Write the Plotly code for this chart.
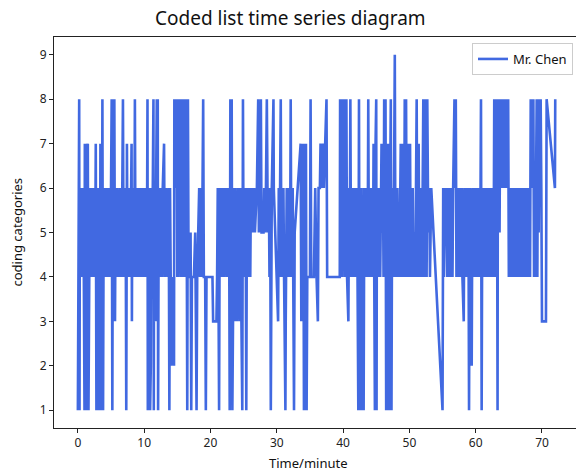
import plotly.graph_objects as go

# ---- data: (minute, coding category) ----
minutes_00_10 = [0.0,0.1,0.2,0.25,0.3,0.4,0.5,0.6,0.7,0.8,0.9,
                 1.0,1.05,1.15,1.25,1.3,1.4,1.5,1.6,1.7,1.8,1.9,
                 2.0,2.1,2.2,2.3,2.4,2.5,2.6,2.7,2.8,2.85,2.9,
                 3.0,3.05,3.1,3.15,3.2,3.3,3.35,3.4,3.45,3.5,3.6,3.7,3.8,3.9,
                 4.0,4.1,4.2,4.3,4.4,4.5,4.6,4.7,4.8,4.9,
                 5.0,5.1,5.2,5.3,5.4,5.5,5.6,5.7,5.8,5.9,
                 6.0,6.1,6.2,6.3,6.4,6.5,6.6,6.7,6.8,6.9,
                 7.0,7.1,7.2,7.3,7.4,7.5,7.6,7.7,7.8,7.9,
                 8.0,8.1,8.15,8.2,8.3,8.4,8.5,8.6,8.7,8.8,8.9,
                 9.0,9.1,9.2,9.3,9.4,9.5,9.6,9.7,9.8,9.9]
codes_00_10 = [1,6,8,1,6,4,6,4,5,6,4,
               1,7,4,7,1,6,7,1,4,6,4,
               6,5,4,6,4,6,4,7,1,6,1,
               4,1,6,1,4,1,6,7,1,4,1,8,1,6,
               4,6,4,5,6,4,6,4,6,4,
               6,8,1,8,4,8,3,6,4,6,
               4,5,4,6,4,6,4,6,8,4,
               6,4,6,1,7,4,6,4,6,4,
               6,7,3,6,4,6,4,8,4,6,4,
               6,4,6,5,4,6,4,6,4,6]

minutes_10_20 = [10.0,10.1,10.2,10.3,10.4,10.5,10.55,10.6,10.7,10.8,10.9,
                 11.0,11.1,11.2,11.3,11.4,11.45,11.5,11.6,11.7,11.8,11.9,
                 12.0,12.05,12.1,12.2,12.3,12.4,12.5,12.6,12.7,12.8,
                 13.0,13.1,13.3,13.5,13.6,13.7,13.8,13.9,
                 14.0,14.1,14.3,14.5,14.55,14.6,14.7,14.8,14.9,
                 15.0,15.1,15.2,15.3,15.4,15.5,15.6,15.7,15.8,15.9,
                 16.0,16.1,16.2,16.3,16.4,16.5,16.6,16.7,16.9,
                 17.0,17.1,17.2,17.5,17.7,17.9,
                 18.0,18.3,18.4,18.6,18.7,18.9,
                 19.0,19.2,19.3,19.4,19.8]
codes_10_20 = [4,6,4,6,4,8,1,6,4,6,1,
               2,6,4,6,8,1,6,4,3,6,8,
               4,8,1,6,4,6,4,6,4,6,
               7,4,6,4,5,6,1,6,
               4,2,4,2,8,6,8,6,8,
               4,8,4,8,5,8,4,8,4,8,
               4,8,4,8,6,1,8,4,4,
               5,1,4,4,5,1,
               4,6,4,6,4,8,
               4,4,1,4,4]

minutes_20_30 = [20.3,20.4,20.9,
                 21.0,21.1,21.2,21.3,21.4,21.5,21.6,21.7,21.8,21.9,
                 22.0,22.1,22.2,22.3,22.4,22.5,22.6,22.7,22.8,22.9,
                 23.0,23.1,23.2,23.3,23.4,23.5,23.6,23.7,23.8,23.9,
                 24.0,24.1,24.2,24.3,24.4,24.5,24.6,24.8,24.9,
                 25.0,25.1,25.2,25.3,25.4,25.5,25.6,25.7,25.8,25.9,
                 26.0,26.1,26.2,26.3,26.4,26.6,26.7,
                 27.0,27.2,27.3,27.5,27.6,27.7,
                 28.0,28.1,28.3,28.5,28.6,28.7,28.8,28.9,
                 29.0,29.1,29.25,29.5,29.55]
codes_20_30 = [4,3,3,
               4,6,4,1,6,4,6,4,6,4,
               6,4,6,5,6,4,6,4,6,1,
               8,4,8,1,3,6,3,6,3,5,
               3,6,4,6,3,6,4,1,8,
               4,6,4,6,1,6,4,6,4,6,
               4,6,5,6,5,6,5,
               6,8,5,6,8,5,
               5,6,5,8,6,5,6,4,
               6,1,6,8,6]

minutes_30_40 = [30.2,30.3,30.4,30.5,30.6,30.7,30.8,30.9,
                 31.0,31.1,31.3,31.35,31.5,31.6,31.7,31.8,31.9,
                 32.0,32.1,32.2,32.4,32.6,32.7,
                 33.6,33.7,33.8,33.9,
                 34.0,34.1,34.2,34.3,34.4,34.5,34.6,34.8,
                 35.0,35.1,35.2,35.6,35.8,
                 36.0,36.2,36.3,36.5,36.6,36.8,
                 37.0,37.1,37.5,37.6,
                 39.5,39.55,39.6,39.7,39.8,39.9]
codes_30_40 = [3,6,4,6,8,4,6,4,
               6,4,1,3,6,4,6,4,6,
               4,8,4,6,1,5,
               7,3,7,5,
               7,1,7,1,7,1,4,4,
               4,8,4,4,6,
               4,3,6,6,7,6,
               7,6,8,4,
               4,8,4,8,4,8]

minutes_40_50 = [40.0,40.1,40.2,40.3,40.4,40.5,40.6,40.8,40.9,
                 41.0,41.1,41.2,41.3,41.4,41.5,41.6,41.7,41.8,41.9,
                 42.0,42.1,42.3,42.4,42.5,42.6,42.7,42.8,42.9,
                 43.0,43.1,43.2,43.3,43.4,43.5,43.6,43.7,43.8,43.9,
                 44.0,44.1,44.2,44.3,44.4,44.5,44.6,44.7,44.8,44.9,
                 45.0,45.05,45.1,45.2,45.3,45.4,45.5,45.6,45.7,45.8,45.9,
                 46.0,46.1,46.2,46.3,46.4,46.5,46.6,46.7,46.8,46.9,
                 47.0,47.1,47.2,47.3,47.4,47.6,47.8,47.9,
                 48.0,48.1,48.2,48.3,48.4,48.5,48.6,48.7,48.8,48.9,
                 49.0,49.1,49.2,49.3,49.4,49.5,49.6,49.7,49.8,49.9]
codes_40_50 = [5,8,4,8,4,8,4,3,6,
               4,8,4,6,4,6,4,6,4,6,
               4,6,1,8,1,6,1,6,1,
               4,1,6,4,6,4,5,4,8,4,
               6,4,6,4,6,4,7,4,1,7,
               8,1,6,4,6,4,6,4,6,7,5,
               7,4,8,7,8,1,6,1,7,4,
               1,6,8,1,6,4,9,4,
               6,4,6,4,5,4,6,7,4,7,
               4,6,4,8,4,8,4,6,7,4]

minutes_50_60 = [50.0,50.1,50.2,50.3,50.4,50.5,50.6,50.8,50.9,
                 51.0,51.1,51.2,51.3,51.4,51.5,51.6,51.7,51.8,51.9,
                 52.0,52.1,52.2,52.3,52.4,52.5,52.6,52.7,52.8,52.9,
                 53.0,53.1,53.3,
                 55.0,55.1,55.2,55.3,55.4,55.5,55.6,55.7,55.8,55.9,
                 56.0,56.1,56.2,56.3,56.4,56.5,56.6,56.8,56.9,
                 57.0,57.1,57.2,57.4,57.5,57.6,57.7,57.8,57.9,
                 58.0,58.2,58.3,58.4,58.5,58.6,58.7,58.8,58.9,
                 59.0,59.1,59.2,59.4,59.5,59.6,59.7,59.8,59.9]
codes_50_60 = [6,7,4,6,4,6,4,5,4,
               6,8,4,6,7,4,6,4,6,4,
               6,8,4,8,4,8,4,8,6,5,
               6,4,6,
               1,6,4,6,5,6,5,4,6,4,
               6,4,6,4,6,4,6,8,6,
               8,4,6,4,6,4,6,4,6,
               4,3,6,4,6,4,6,4,6,
               1,6,4,2,6,4,6,4,6]

minutes_60_72 = [60.0,60.1,60.2,60.3,60.4,60.5,60.6,60.7,60.8,60.9,
                 61.0,61.1,61.2,61.3,61.4,61.5,61.6,61.8,61.9,
                 62.0,62.1,62.2,62.3,62.4,62.5,62.7,62.8,62.9,
                 63.0,63.1,63.2,63.3,63.35,63.4,63.5,63.6,63.7,63.8,63.9,
                 64.0,64.1,64.2,64.3,64.4,64.5,64.6,64.7,64.8,64.9,
                 65.0,65.1,65.2,65.3,65.4,65.5,65.6,65.7,65.8,65.9,
                 66.0,66.1,66.2,66.4,66.5,66.6,66.7,66.8,66.9,
                 67.0,67.1,67.2,67.3,67.4,67.5,67.6,67.7,67.8,67.9,
                 68.0,68.1,68.2,68.3,68.4,68.5,68.6,68.7,68.8,68.9,
                 69.0,69.1,69.2,69.3,69.4,69.5,69.6,69.7,69.8,69.9,
                 70.0,70.6,70.7,71.95,72.0]
codes_60_72 = [4,6,4,6,4,6,4,5,8,1,
               6,4,6,4,6,4,6,4,6,
               4,6,4,6,4,6,4,8,4,
               8,6,8,1,8,6,8,5,8,6,8,
               6,8,6,8,6,8,6,8,6,8,
               4,6,5,4,6,4,6,4,6,4,
               6,4,6,4,6,4,6,4,6,
               4,6,4,6,4,6,4,6,4,6,
               4,6,4,8,6,8,6,8,4,6,
               4,6,8,4,8,5,8,6,8,6,
               3,3,8,6,8]

x_ticks = [0, 10, 20, 30, 40, 50, 60, 70]
y_ticks = [1, 2, 3, 4, 5, 6, 7, 8, 9]
series_name = "Mr. Chen"

minutes = (minutes_00_10 + minutes_10_20 + minutes_20_30 + minutes_30_40
           + minutes_40_50 + minutes_50_60 + minutes_60_72)
codes = (codes_00_10 + codes_10_20 + codes_20_30 + codes_30_40
         + codes_40_50 + codes_50_60 + codes_60_72)
assert len(minutes) == len(codes)

FONT = "Noto Sans"
AX = "#222222"
W, H = 576, 472
L, R, T, B = 54, 0, 37, 44
PW, PH = W - L - R, H - T - B

fig = go.Figure()
fig.add_trace(go.Scatter(
    x=minutes, y=codes, mode="lines", name=series_name,
    line=dict(color="#4169E1", width=2.6),
))

fig.update_layout(
    width=W, height=H,
    margin=dict(l=L, r=R, t=T, b=B, autoexpand=False),
    paper_bgcolor="white", plot_bgcolor="white",
    font=dict(family=FONT, size=12, color=AX),
    showlegend=True,
    legend=dict(x=(573 - L) / PW, xanchor="right", y=1 - (43 - T) / PH, yanchor="top",
                bgcolor="white", bordercolor="#cccccc", borderwidth=1,
                font=dict(family=FONT, size=13, color="#111111"),
                itemwidth=30, tracegroupgap=0),
    annotations=[
        dict(text="Coded list time series diagram", xref="paper", yref="paper",
             x=(290 - L) / PW, y=1 + (T - 18) / PH,
             xanchor="center", yanchor="middle", showarrow=False,
             font=dict(family=FONT, size=19, color="#111111")),
        dict(text="Time/minute", xref="paper", yref="paper",
             x=(308 - L) / PW, y=-(463 - (H - B)) / PH,
             xanchor="center", yanchor="middle", showarrow=False,
             font=dict(family=FONT, size=13, color="#111111")),
        dict(text="coding categories", xref="paper", yref="paper",
             x=-(L - 16) / PW, y=0.5, textangle=-90,
             xanchor="center", yanchor="middle", showarrow=False,
             font=dict(family=FONT, size=13, color="#111111")),
    ],
)
fig.update_xaxes(
    range=[-3.6, 75.13], tickvals=x_ticks, ticks="outside", ticklen=4,
    tickcolor=AX, showline=True, linecolor=AX, linewidth=1, mirror=True,
    showgrid=False, zeroline=False, automargin=False,
    tickfont=dict(size=12, color=AX),
)
fig.update_yaxes(
    range=[0.6, 9.4], tickvals=y_ticks, ticks="outside", ticklen=4,
    tickcolor=AX, showline=True, linecolor=AX, linewidth=1, mirror=False,
    showgrid=False, zeroline=False, automargin=False,
    tickfont=dict(size=12, color=AX),
)

fig.write_html(
    "out.html",
    config={"displayModeBar": False},
    post_script="document.body.style.margin='0';document.body.style.padding='0';"
                "document.documentElement.style.overflow='hidden';",
)
